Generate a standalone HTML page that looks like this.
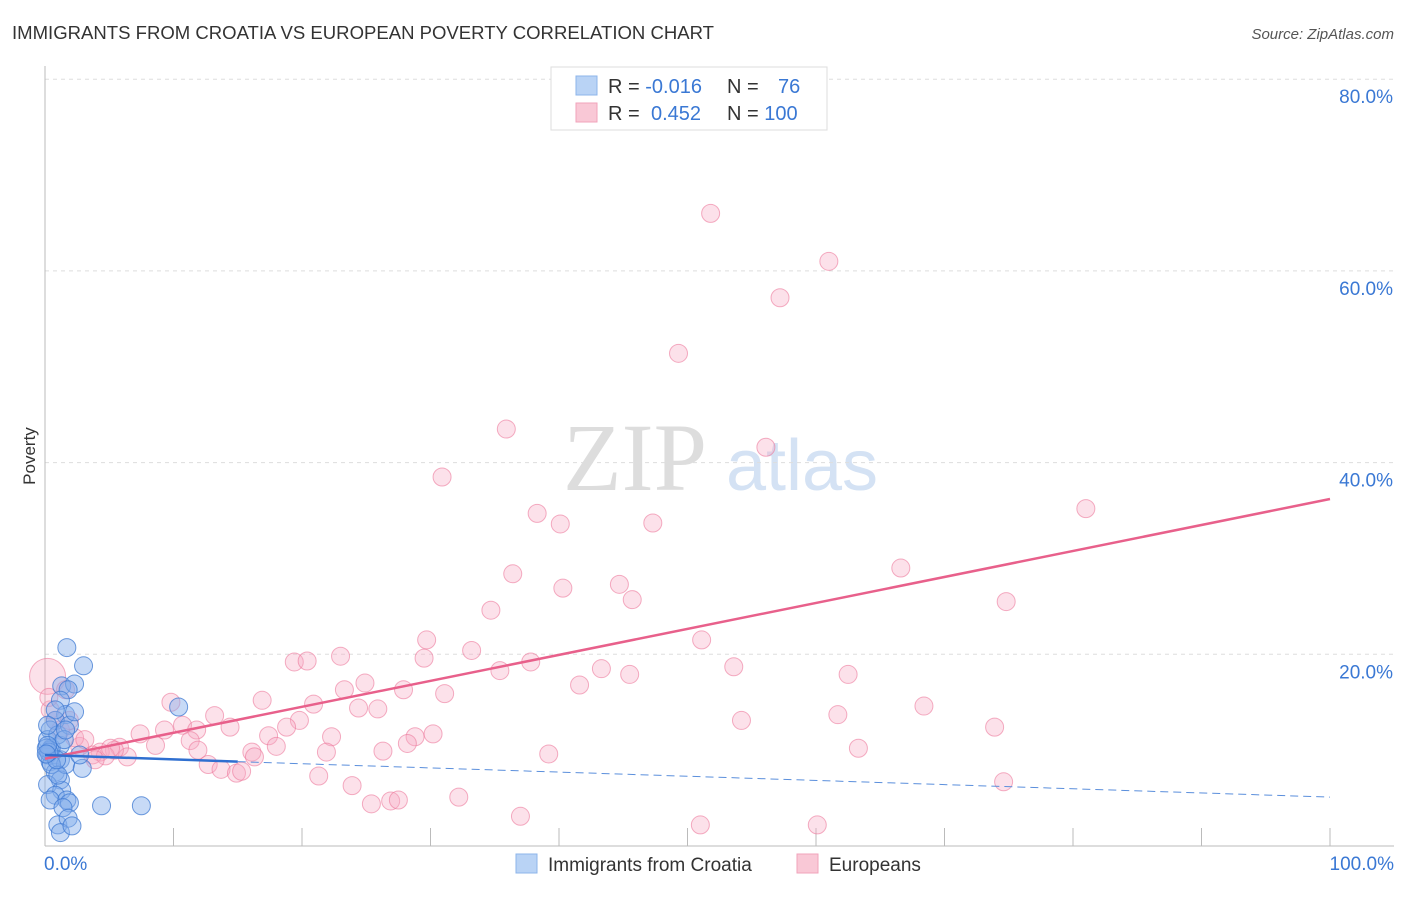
<!DOCTYPE html>
<html><head><meta charset="utf-8"><style>
body{margin:0;background:#fff;font-family:"Liberation Sans",sans-serif}
svg text{font-family:"Liberation Sans",sans-serif}
</style></head><body>
<svg id="c" width="1406" height="892" viewBox="0 0 1406 892">
<text x="12" y="39" font-size="18" fill="#333" textLength="702" lengthAdjust="spacingAndGlyphs">IMMIGRANTS FROM CROATIA VS EUROPEAN POVERTY CORRELATION CHART</text>
<text x="1394" y="39" font-size="15" fill="#555" font-style="italic" text-anchor="end">Source: ZipAtlas.com</text>
<text x="35" y="456" font-size="17" fill="#333" text-anchor="middle" transform="rotate(-90 35 456)">Poverty</text>
<g>
<text x="635" y="490" font-size="96" fill="#ddd" text-anchor="middle" style="font-family:'Liberation Serif',serif">ZIP</text>
<text x="802" y="490" font-size="72" fill="#d4e2f4" text-anchor="middle">atlas</text>
</g>
<g id="grid"></g>
<g id="axes"></g>
<g id="pts"></g>
<g id="lines"></g>
<g>
<rect x="551" y="67" width="276" height="63" fill="#fff" stroke="#ddd"/>
<rect x="576" y="76" width="21" height="19" fill="#b9d3f5" stroke="#8db4ea"/>
<rect x="576" y="103" width="21" height="19" fill="#f9c8d6" stroke="#f1a3bb"/>
<text x="608" y="93" font-size="20" fill="#333">R = <tspan fill="#3a78d4">-0.016</tspan></text>
<text x="727" y="93" font-size="20" fill="#333">N = <tspan fill="#3a78d4" x="778">76</tspan></text>
<text x="608" y="120" font-size="20" fill="#333">R = <tspan fill="#3a78d4" x="651">0.452</tspan></text>
<text x="727" y="120" font-size="20" fill="#333">N = <tspan fill="#3a78d4">100</tspan></text>
</g>
<g>
<rect x="516" y="854" width="21" height="19" fill="#b9d3f5" stroke="#8db4ea"/>
<text x="548" y="871" font-size="19" fill="#333">Immigrants from Croatia</text>
<rect x="797" y="854" width="21" height="19" fill="#f9c8d6" stroke="#f1a3bb"/>
<text x="829" y="871" font-size="19" fill="#333">Europeans</text>
</g>
</svg>
<script>
const yTicks=[20,40,60,80];
const yTickLabels=["20.0%","40.0%","60.0%","80.0%"];
const xTickLabels=["0.0%","100.0%"];
const pinkX=[51.8,61.0,57.2,49.3,35.9,56.1,30.9,81.0,38.3,40.1,47.3,36.4,66.6,40.3,44.7,45.7,34.7,74.8,29.7,51.1,33.2,19.4,20.4,23.0,29.5,37.8,35.4,43.3,53.6,45.5,62.5,41.6,24.9,23.3,27.9,31.1,16.9,20.9,9.8,13.2,24.4,25.9,68.4,61.7,54.2,19.8,17.4,18.8,22.3,28.8,30.2,28.2,18.0,21.9,26.3,39.2,63.3,73.9,16.1,7.4,8.6,9.3,10.7,11.8,14.4,11.3,11.9,12.7,13.7,14.9,15.3,16.3,5.8,6.4,5.4,4.3,3.7,4.7,2.7,2.3,1.2,0.8,0.4,0.2,1.6,21.3,23.9,25.4,26.9,27.5,32.2,37.0,51.0,60.1,74.6,1.9,3.1,5.1,3.9,0.3];
const pinkY=[66.0,61.0,57.2,51.4,43.5,41.6,38.5,35.2,34.7,33.6,33.7,28.4,29.0,26.9,27.3,25.7,24.6,25.5,21.5,21.5,20.4,19.2,19.3,19.8,19.6,19.2,18.3,18.5,18.7,17.9,17.9,16.8,17.0,16.3,16.3,15.9,15.2,14.8,15.0,13.6,14.4,14.3,14.6,13.7,13.1,13.1,11.5,12.4,11.4,11.4,11.7,10.7,10.4,9.8,9.9,9.6,10.2,12.4,9.8,11.7,10.5,12.1,12.6,12.1,12.4,11.0,10.0,8.5,8.0,7.6,7.8,9.3,10.3,9.3,10.0,9.8,9.5,9.4,10.4,11.3,12.1,13.1,14.2,17.7,16.3,7.3,6.3,4.4,4.7,4.8,5.1,3.1,2.2,2.2,6.7,13.1,11.1,10.2,9.0,15.5];
const blueX=[1.7,3.0,1.3,2.3,1.8,10.4,1.2,1.6,0.8,0.4,0.2,0.5,0.2,0.4,0.8,1.2,0.2,1.3,0.8,0.4,1.7,1.9,1.4,1.0,1.8,1.2,2.1,4.4,7.5,1.2,1.6,2.9,1.2,1.0,1.9,2.3,0.8,0.5,1.0,1.5,1.6,0.4,0.2,2.7,0.9,0.1,0.3,0.2,0.1];
const blueY=[20.7,18.8,16.7,16.9,16.3,14.5,15.2,13.7,13.1,12.1,11.1,10.2,9.5,8.8,7.7,6.9,6.4,5.8,5.3,4.8,4.8,4.5,4.0,2.2,2.9,1.4,2.1,4.2,4.2,9.0,8.5,8.1,10.5,11.6,12.6,14.0,14.2,8.5,7.4,11.1,12.1,10.0,12.6,9.5,9.0,10.2,9.8,10.5,9.6];
const pinkTrend=[9.1,36.2];
const blueTrend=[9.5,8.8,5.1];
const NS="http://www.w3.org/2000/svg";
const X0=45,X1=1330,Y0=846,YS=9.585;
function sx(v){return X0+(X1-X0)*v/100;}
function sy(v){return Y0-v*YS;}
function mk(t,a,p){const e=document.createElementNS(NS,t);for(const k in a)e.setAttribute(k,a[k]);p.appendChild(e);return e;}
const grid=document.getElementById('grid'),axes=document.getElementById('axes'),pts=document.getElementById('pts'),lines=document.getElementById('lines');
yTicks.forEach((v,i)=>{
 const l=mk('line',{x1:X0,x2:1394,y1:sy(v),y2:sy(v),stroke:'#ddd','stroke-dasharray':'4,4'},grid);
 
 
 const t=mk('text',{x:1393,y:sy(v)+24,'font-size':19,fill:'#3a78d4','text-anchor':'end'},axes);
 t.textContent=yTickLabels[i];
 
 
});
const ya=mk('line',{x1:X0,x2:X0,y1:66,y2:Y0,stroke:'#bbb'},axes);


const xa=mk('line',{x1:X0,x2:1394,y1:Y0,y2:Y0,stroke:'#bbb'},axes);


for(let i=0;i<=10;i++){
 const tk=mk('line',{x1:sx(i*10),x2:sx(i*10),y1:828,y2:Y0,stroke:'#bbb'},axes);
 
 
}
[[0,'start',44],[100,'end',1394]].forEach((d,i)=>{
 const t=mk('text',{x:d[2],y:870,'font-size':19,fill:'#3a78d4','text-anchor':d[1]},axes);
 t.textContent=xTickLabels[i];
 
 
});
pinkX.forEach((v,i)=>{
 const big=(v<0.5&&pinkY[i]>17);
 const c=mk('circle',{cx:sx(v),cy:sy(pinkY[i]),r:big?18:9,fill:'rgba(246,170,194,0.35)',stroke:'rgba(236,120,155,0.6)','stroke-width':1},pts);
 
 
});
blueX.forEach((v,i)=>{
 const c=mk('circle',{cx:sx(v),cy:sy(blueY[i]),r:9,fill:'rgba(130,172,234,0.45)',stroke:'rgba(60,120,210,0.75)','stroke-width':1},pts);
 
 
});
const pl=mk('line',{x1:sx(0),y1:sy(pinkTrend[0]),x2:sx(100),y2:sy(pinkTrend[1]),stroke:'#e8608b','stroke-width':2.5},lines);


const bl=mk('line',{x1:sx(0),y1:sy(blueTrend[0]),x2:sx(15),y2:sy(blueTrend[1]),stroke:'#2f6fd0','stroke-width':2.5},lines);


const bd=mk('line',{x1:sx(15),y1:sy(blueTrend[1]),x2:sx(100),y2:sy(blueTrend[2]),stroke:'#5b8fdc','stroke-width':1,'stroke-dasharray':'8,5'},lines);


</script>
</body></html>
